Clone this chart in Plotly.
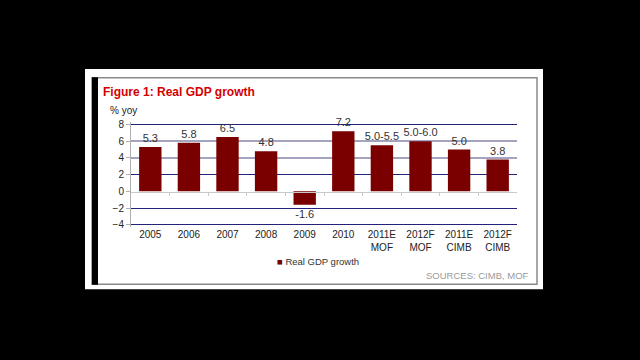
import plotly.graph_objects as go

categories = ["2005", "2006", "2007", "2008", "2009", "2010",
              "2011E<br>MOF", "2012F<br>MOF", "2011E<br>CIMB", "2012F<br>CIMB"]
gdp_growth = [5.3, 5.8, 6.5, 4.8, -1.6, 7.2, 5.5, 6.0, 5.0, 3.8]
value_labels = ["5.3", "5.8", "6.5", "4.8", "-1.6", "7.2", "5.0-5.5", "5.0-6.0", "5.0", "3.8"]
y_ticks = [-4, -2, 0, 2, 4, 6, 8]
navy_grid = [8, 2, -2, -4]
light_grid = [6, 4]

W, H = 640, 360
def px(x):
    return x / W
def py(y):
    return 1 - y / H

FONT = "Liberation Sans, Arial, sans-serif"
BAR = "#7a0000"

xpos = list(range(len(categories)))

fig = go.Figure()
# helper traces so the overlay axes (grids, zero line) get drawn
for xa, ya in [("x", "y2"), ("x", "y3"), ("x2", "y")]:
    fig.add_trace(go.Scatter(x=[None], y=[None], xaxis=xa, yaxis=ya,
                             showlegend=False, hoverinfo="skip"))
fig.add_trace(go.Bar(
    x=xpos, y=gdp_growth, width=0.58,
    marker=dict(color=BAR, line=dict(width=0)),
    text=value_labels, textposition="outside", cliponaxis=False, constraintext="none",
    textfont=dict(family=FONT, size=11, color="#333333"),
    showlegend=False, hoverinfo="skip",
))

shapes = [
    dict(type="rect", xref="paper", yref="paper", x0=px(85), x1=px(543), y0=py(291), y1=py(67),
         fillcolor="white", line=dict(width=0), layer="below"),
    dict(type="rect", xref="paper", yref="paper", x0=px(92), x1=px(537), y0=py(286), y1=py(76),
         fillcolor="white", line=dict(color="#8a8a8a", width=1.5), layer="below"),
    dict(type="rect", xref="paper", yref="paper", x0=px(92), x1=px(98), y0=py(286.5), y1=py(75.5),
         fillcolor="black", line=dict(width=0), layer="below"),
]

annotations = [
    dict(text="Figure 1: Real GDP growth", xref="paper", yref="paper", x=px(101), y=py(91),
         xanchor="left", yanchor="middle", showarrow=False,
         font=dict(family=FONT, size=12, color="#d40000", weight="bold")),
    dict(text="% yoy", xref="paper", yref="paper", x=px(108), y=py(109),
         xanchor="left", yanchor="middle", showarrow=False,
         font=dict(family=FONT, size=10, color="#222222")),
    dict(text='<span style="color:%s">■</span> Real GDP growth' % BAR, xref="paper", yref="paper",
         x=px(275), y=py(263), xanchor="left", yanchor="middle", showarrow=False,
         font=dict(family=FONT, size=9.5, color="#333333")),
    dict(text="SOURCES: CIMB, MOF", xref="paper", yref="paper", x=px(531), y=py(277),
         xanchor="right", yanchor="middle", showarrow=False,
         font=dict(family=FONT, size=9.5, color="#9a9a9a")),
]

xr = [-0.5, len(categories) - 0.5]
yr = [-4.25, 8.25]
ydom = [py(227.6), py(121.4)]
xdom = [px(131), px(517)]
fig.update_layout(
    width=W, height=H, autosize=False,
    margin=dict(l=0, r=0, t=0, b=0),
    paper_bgcolor="black", plot_bgcolor="rgba(0,0,0,0)",
    shapes=shapes, annotations=annotations,
    xaxis=dict(domain=xdom, range=xr, tickmode="array", tickvals=xpos,
               ticktext=categories, showgrid=False, zeroline=False, showline=False, ticks="",
               tickfont=dict(family=FONT, size=10, color="#222222"), fixedrange=True),
    xaxis2=dict(overlaying="x", anchor="free", position=py(192.4), range=xr, domain=xdom,
                tickmode="array", tickvals=[i + 0.5 for i in range(len(categories) - 1)],
                showticklabels=False, ticks="outside", ticklen=3, tickcolor="#c8c8c8",
                showline=True, linecolor="#c8c8c8", linewidth=1, showgrid=False, zeroline=False,
                fixedrange=True),
    yaxis=dict(domain=ydom, range=yr, tickmode="array", tickvals=y_ticks,
               showgrid=False, zeroline=False, showline=True, linecolor="#b0b0b0", linewidth=1,
               ticks="outside", ticklen=4, tickcolor="#b0b0b0",
               tickfont=dict(family=FONT, size=10, color="#222222"), fixedrange=True),
    yaxis2=dict(overlaying="y", range=yr, domain=ydom, tickmode="array", tickvals=navy_grid,
                showticklabels=False, ticks="", showline=False, zeroline=False,
                showgrid=True, gridcolor="#22227a", gridwidth=1.2, fixedrange=True),
    yaxis3=dict(overlaying="y", range=yr, domain=ydom, tickmode="array", tickvals=light_grid,
                showticklabels=False, ticks="", showline=False, zeroline=False,
                showgrid=True, gridcolor="#a4a4c0", gridwidth=1.5, fixedrange=True),
)

fig.write_html("out.html", config={"displayModeBar": False},
               post_script="document.body.style.margin='0';document.body.style.background='black';")
